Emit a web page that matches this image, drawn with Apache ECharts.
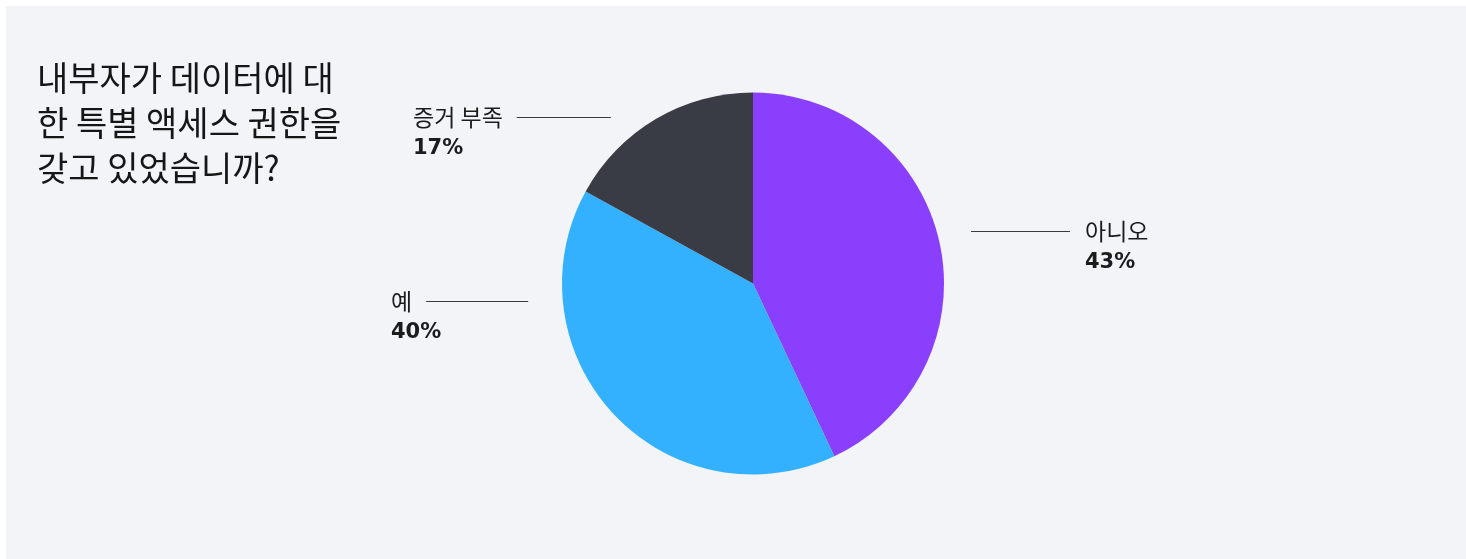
<!DOCTYPE html>
<html>
<head>
<meta charset="utf-8">
<script src="https://cdn.jsdelivr.net/npm/echarts@6/dist/echarts.min.js"></script>
<style>
  html, body { margin: 0; padding: 0; background: #ffffff; }
  #chart { position: absolute; left: 6px; top: 6px; width: 1460px; height: 553px; }
</style>
</head>
<body>
<div id="chart"></div>
<script>
// Survey answers and their shares (%)
const categories = ['아니오', '예', '증거 부족'];
const shares = [43, 40, 17];
const sliceColors = ['#8a3ffc', '#33b1ff', '#393c45'];
const titleText = '내부자가 데이터에 대\n한 특별 액세스 권한을\n갖고 있었습니까?';

// Label placement relative to the pie centre (px): left edge and top of the label block
const labelOffsets = {
  '아니오': { dx: 218, dy: -67.5, side: 'right', line: 99 },
  '증거 부족': { dx: -340, dy: -181.5, side: 'left', line: 94 },
  '예': { dx: -362, dy: 2.5, side: 'left', line: 102 }
};

const chart = echarts.init(document.getElementById('chart'));
const center = [747, 277.5];
const radius = 191;

const fontKR = '"Noto Sans CJK KR", "Noto Sans", sans-serif';
const fontNum = '"DejaVu Sans", "Noto Sans", sans-serif';

function labelFormatter(p) {
  const o = labelOffsets[p.name];
  const pct = Math.round(p.value) + '%';
  if (o.side === 'right') {
    return '{ln' + p.dataIndex + '|}{nmr|' + p.name + '}\n{sp' + p.dataIndex + '|}{pc|' + pct + '}';
  }
  return '{nm|' + p.name + '}{ln' + p.dataIndex + '|}\n{pc|' + pct + '}';
}

const rich = {
  nm: { fontSize: 23, color: '#1c1c1c', fontFamily: fontKR, lineHeight: 31, padding: [0, 14, 0, 0] },
  nmr: { fontSize: 23, color: '#1c1c1c', fontFamily: fontKR, lineHeight: 31, padding: [0, 0, 0, 15] },
  pc: { fontSize: 21, fontWeight: 'bold', color: '#1c1c1c', fontFamily: fontNum, lineHeight: 31 }
};
categories.forEach((c, i) => {
  const o = labelOffsets[c];
  rich['ln' + i] = { width: o.line, height: 1, backgroundColor: '#3a3a3a' };
  rich['sp' + i] = { width: o.line + 15, height: 1 };
});

chart.setOption({
  backgroundColor: '#f2f4f8',
  title: {
    text: titleText,
    left: 31,
    top: 50,
    padding: 0,
    textStyle: {
      fontFamily: fontKR,
      fontSize: 34,
      fontWeight: 'normal',
      lineHeight: 45,
      color: '#161616'
    }
  },
  series: [{
    type: 'pie',
    center: center,
    radius: [0, radius],
    startAngle: 90,
    clockwise: true,
    silent: true,
    animation: false,
    data: categories.map((c, i) => ({ name: c, value: shares[i], itemStyle: { color: sliceColors[i] } })),
    itemStyle: { borderWidth: 0 },
    label: {
      show: true,
      position: 'outside',
      formatter: labelFormatter,
      rich: rich
    },
    labelLine: { show: false },
    labelLayout: function (params) {
      const o = labelOffsets[categories[params.dataIndex]];
      return {
        x: center[0] + o.dx,
        y: center[1] + o.dy,
        align: 'left',
        verticalAlign: 'top'
      };
    }
  }]
});
</script>
</body>
</html>
